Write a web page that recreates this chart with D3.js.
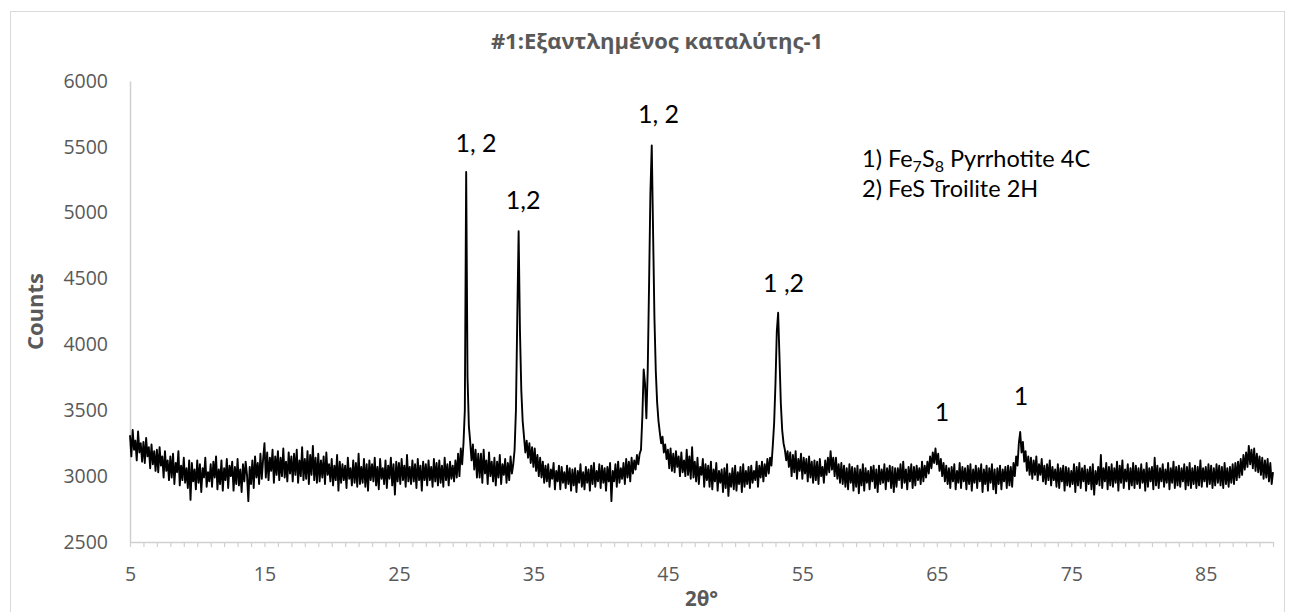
<!DOCTYPE html>
<html>
<head>
<meta charset="utf-8">
<script src="https://cdn.jsdelivr.net/npm/d3@7"></script>
<style>
  body { margin: 0; background: #ffffff; }
  svg { display: block; }
</style>
</head>
<body>
<svg id="chart" width="1295" height="612"></svg>
<script>
// ---- chart text ----
const chartTitle = "#1:Εξαντλημένος καταλύτης-1";
const xAxisTitle = "2θ°";
const yAxisTitle = "Counts";

// ---- diffractogram: counts sampled every 0.1° of 2θ, starting at 5° ----
const angleStart = 5;
const angleStep = 0.1;
const counts = [
  /* 5 */ 3310,3150,3350,3200,3270,3120,3340,3180,3250,3110,
  /* 6 */ 3260,3100,3290,3150,3220,3060,3240,3090,3190,3040,
  /* 7 */ 3200,3030,3220,3080,3150,2990,3190,3040,3120,2970,
  /* 8 */ 3150,2990,3170,2940,3100,3030,3190,2930,3080,2970,
  /* 9 */ 3140,2950,3060,2910,3120,2820,3100,2960,3050,2900,
  /*10 */ 3120,2950,3090,2880,3060,2990,3140,2920,3030,2960,
  /*11 */ 3090,2920,3110,2990,3150,2900,3050,2940,3120,2890,
  /*12 */ 3060,2970,3130,2910,3080,3000,3110,2890,3070,2940,
  /*13 */ 3130,2930,3050,2880,3090,2960,3110,3010,2810,3070,
  /*14 */ 2940,3120,2910,3150,2990,3100,2940,3170,2980,3130,
  /*15 */ 3250,2990,3180,2970,3140,3040,3200,2950,3150,3010,
  /*16 */ 3190,2970,3140,3000,3210,2990,3110,2960,3180,3020,
  /*17 */ 3150,2960,3170,3010,3200,2950,3120,3000,3220,2970,
  /*18 */ 3130,2980,3190,2940,3160,3010,3230,2970,3140,2950,
  /*19 */ 3170,2960,3120,2990,3150,2940,3180,3010,3090,2960,
  /*20 */ 3130,2930,3080,2970,3160,2890,3110,2950,3090,2970,
  /*21 */ 3080,2910,3140,2980,3060,2930,3120,2950,3100,2920,
  /*22 */ 3170,2940,3070,2950,3130,2920,3090,2890,3120,2970,
  /*23 */ 3090,2960,3140,2930,3070,2900,3130,2980,3060,2940,
  /*24 */ 3120,2910,3080,2980,3140,2930,3090,2860,3110,2960,
  /*25 */ 3100,2940,3130,2970,3080,2920,3160,2960,3070,2940,
  /*26 */ 3120,2960,3090,2910,3130,2970,3080,2890,3110,2970,
  /*27 */ 3090,2930,3120,2970,3070,2920,3130,2960,3100,2930,
  /*28 */ 3120,2950,3080,2920,3140,2970,3090,2930,3110,2980,
  /*29 */ 3080,2960,3120,2990,3170,3000,3210,3090,3250,3500,
  /*30 */ 5310,3750,3380,3260,3120,3240,3050,3200,2990,3170,
  /*31 */ 2990,3170,2950,3200,3020,3120,2940,3180,3000,3110,
  /*32 */ 2960,3140,2930,3110,2990,3160,2940,3090,3010,3130,
  /*33 */ 2950,3100,2970,3150,3020,3090,3200,3500,4200,4860,
  /*34 */ 4100,3650,3420,3300,3180,3270,3140,3250,3100,3220,
  /*35 */ 3070,3210,3040,3160,3000,3140,2990,3110,2950,3080,
  /*36 */ 2960,3090,2920,3050,2980,3100,2900,3040,2960,3080,
  /*37 */ 2900,3070,2950,3030,2910,3080,2940,3060,2890,3050,
  /*38 */ 2930,3060,2880,3040,2950,3090,2920,3030,2900,3070,
  /*39 */ 2950,3050,2890,3080,2940,3100,2920,3040,2960,3090,
  /*40 */ 2910,3080,2950,3060,2890,3070,2960,3100,2810,3040,
  /*41 */ 2960,3090,2920,3110,2950,3060,2980,3100,2940,3130,
  /*42 */ 2990,3110,2960,3140,3020,3120,3050,3160,3090,3170,
  /*43 */ 3200,3450,3810,3700,3440,3800,4450,5150,5510,4850,
  /*44 */ 4200,3800,3560,3420,3330,3250,3300,3180,3240,3130,
  /*45 */ 3200,3060,3210,3040,3170,3030,3190,3070,3150,3000,
  /*46 */ 3180,3030,3120,3000,3200,3010,3150,2980,3220,2990,
  /*47 */ 3110,2960,3140,2940,3070,3010,3130,2920,3090,2970,
  /*48 */ 3080,2920,3110,2900,3050,2960,3100,2890,3040,2950,
  /*49 */ 3050,2880,3060,2910,3090,2850,3020,2920,3060,2900,
  /*50 */ 3080,2890,3030,2940,3070,2880,3090,2920,3040,2940,
  /*51 */ 3070,2910,3080,2950,3040,2970,3110,2920,3080,2990,
  /*52 */ 3110,2960,3090,3000,3130,3020,3140,3080,3230,3400,
  /*53 */ 3700,4100,4240,3900,3550,3350,3250,3200,3120,3190,
  /*54 */ 3070,3180,3000,3160,3030,3190,2980,3130,3040,3170,
  /*55 */ 2980,3140,3020,3130,2960,3150,2990,3110,2950,3120,
  /*56 */ 2970,3110,2940,3130,3000,3070,2950,3120,3010,3140,
  /*57 */ 3030,3190,3050,3140,3000,3140,2980,3090,2950,3100,
  /*58 */ 2940,3080,2920,3060,2900,3090,2950,3070,2890,3060,
  /*59 */ 2920,3080,2870,3050,2930,3090,2890,3060,2950,3040,
  /*60 */ 2900,3070,2960,3080,2910,3050,2880,3080,2940,3050,
  /*61 */ 2950,3090,2900,3060,2960,3080,2910,3070,2880,3060,
  /*62 */ 2920,3060,2970,3090,2910,3110,2950,3050,2900,3070,
  /*63 */ 2960,3090,2910,3070,2930,3080,2970,3060,2940,3110,
  /*64 */ 2960,3080,2990,3110,3020,3150,3060,3180,3100,3210,
  /*65 */ 3090,3170,3040,3130,3000,3100,2960,3080,2940,3060,
  /*66 */ 2910,3070,2960,3090,2900,3040,2950,3100,2910,3070,
  /*67 */ 2960,3060,2900,3080,2940,3090,2890,3050,2950,3080,
  /*68 */ 2910,3060,2960,3090,2880,3050,2940,3080,2890,3060,
  /*69 */ 2950,3090,2900,3050,2870,3060,2940,3080,2900,3050,
  /*70 */ 2960,3070,2910,3080,2930,3070,2920,3100,3000,3150,
  /*71 */ 3080,3250,3335,3180,3260,3110,3190,3040,3150,3010,
  /*72 */ 3140,2980,3120,3010,3150,2970,3090,3010,3130,2960,
  /*73 */ 3080,2940,3090,2970,3120,2930,3070,2970,3050,2920,
  /*74 */ 3090,2910,3060,2960,3080,2890,3070,2930,3060,2920,
  /*75 */ 3040,2940,3090,2880,3070,2930,3100,2910,3060,2960,
  /*76 */ 3080,2890,3050,2940,3070,2900,3090,2860,3040,2940,
  /*77 */ 3070,2930,3160,2910,3060,2960,3100,2900,3070,2930,
  /*78 */ 3090,2920,3060,2950,3110,2890,3080,2950,3120,2910,
  /*79 */ 3050,2960,3090,2900,3060,2930,3100,2910,3080,2940,
  /*80 */ 3060,2910,3090,2950,3050,2890,3100,2920,3060,2960,
  /*81 */ 3070,2900,3140,2930,3080,2910,3060,2960,3090,2920,
  /*82 */ 3050,2950,3100,2900,3060,2950,3110,2910,3070,2930,
  /*83 */ 3080,2920,3060,2960,3090,2900,3070,2930,3100,2910,
  /*84 */ 3060,2940,3080,2910,3070,2930,3120,2920,3060,2960,
  /*85 */ 3070,2920,3090,2940,3080,2910,3060,2930,3090,2950,
  /*86 */ 3080,2930,3070,2910,3100,2940,3060,2920,3070,2950,
  /*87 */ 3090,2940,3100,2970,3110,2990,3130,3010,3160,3050,
  /*88 */ 3180,3070,3230,3090,3200,3060,3210,3040,3170,3030,
  /*89 */ 3150,3010,3140,2980,3120,2990,3130,2960,3100,2940,
  /*90 */ 3030
];

// ---- axes ----
const xDomain = [5, 90];
const yDomain = [2500, 6000];
const xTickValues = [5, 15, 25, 35, 45, 55, 65, 75, 85];
const yTickValues = [2500, 3000, 3500, 4000, 4500, 5000, 5500, 6000];

// ---- peak labels (phase numbers) anchored in data units ----
const peakLabelText  = ["1, 2", "1,2", "1, 2", "1 ,2", "1", "1"];
const peakLabelAngle = [30.73, 34.23, 44.30, 53.60, 65.39, 71.26];
const peakLabelCount = [5461, 5028, 5681, 4398, 3421, 3540];

// ---- phase key ----
const phaseNumber  = ["1)", "2)"];
const phaseFormula = [["Fe", "7", "S", "8"], ["FeS"]];
const phaseName    = ["Pyrrhotite 4C", "Troilite 2H"];

// ================= drawing =================
const plot = { left: 130, right: 1273, top: 81, bottom: 542 };
const grey = "#595959";
const axisGrey = "#d0d0d0";
const tickFont = "'Open Sans', 'Noto Sans', sans-serif";
const noteFont = "Lato, 'Open Sans', sans-serif";

const svg = d3.select("#chart");

// chart area frame
svg.append("rect")
  .attr("x", 10.5).attr("y", 11.5)
  .attr("width", 1274).attr("height", 640)
  .attr("fill", "#ffffff")
  .attr("stroke", "#d9d9d9").attr("stroke-width", 1);

const x = d3.scaleLinear().domain(xDomain).range([plot.left, plot.right]);
const y = d3.scaleLinear().domain(yDomain).range([plot.bottom, plot.top]);

const points = counts.map((c, i) => [angleStart + i * angleStep, c]);

// title
svg.append("text")
  .attr("x", 657)
  .attr("y", 49)
  .attr("text-anchor", "middle")
  .attr("font-family", tickFont)
  .attr("font-weight", 700)
  .attr("font-size", 22)
  .attr("fill", grey)
  .text(chartTitle);

// y axis: line only, labels on the left
const yAxis = svg.append("g")
  .attr("transform", `translate(${plot.left},0)`)
  .call(d3.axisLeft(y).tickValues(yTickValues).tickSize(0).tickPadding(22).tickFormat(d3.format("d")));
yAxis.select(".domain").attr("stroke", axisGrey).attr("stroke-width", 1.5);
yAxis.selectAll("text")
  .attr("font-family", tickFont).attr("font-size", 19.5).attr("fill", grey);

// x axis: minor marks at every degree, labels every 10°
const xAxis = svg.append("g")
  .attr("transform", `translate(0,${plot.bottom})`)
  .call(d3.axisBottom(x).tickValues(d3.range(xDomain[0], xDomain[1] + 1, 1)).tickSize(5).tickSizeOuter(0)
    .tickFormat(d => xTickValues.includes(d) ? d : ""));
xAxis.select(".domain").attr("stroke", axisGrey).attr("stroke-width", 1.5);
xAxis.selectAll(".tick line").attr("stroke", axisGrey).attr("stroke-width", 1.2);
xAxis.selectAll("text")
  .attr("font-family", tickFont).attr("font-size", 19.5).attr("fill", grey)
  .attr("dy", 0).attr("y", 39);

// axis titles
svg.append("text")
  .attr("x", (plot.left + plot.right) / 2)
  .attr("y", 606)
  .attr("text-anchor", "middle")
  .attr("font-family", tickFont).attr("font-weight", 700).attr("font-size", 20.5)
  .attr("fill", grey)
  .text(xAxisTitle);

svg.append("text")
  .attr("transform", `translate(43,${(plot.top + plot.bottom) / 2}) rotate(-90)`)
  .attr("text-anchor", "middle")
  .attr("font-family", tickFont).attr("font-weight", 700).attr("font-size", 22)
  .attr("fill", grey)
  .text(yAxisTitle);

// diffractogram trace
const line = d3.line().x(d => x(d[0])).y(d => y(d[1]));
svg.append("path")
  .datum(points)
  .attr("d", line)
  .attr("fill", "none")
  .attr("stroke", "#000000")
  .attr("stroke-width", 1.9)
  .attr("stroke-linejoin", "round");

// phase labels above the reflections
svg.append("g").selectAll("text")
  .data(peakLabelText)
  .join("text")
  .attr("x", (d, i) => x(peakLabelAngle[i]))
  .attr("y", (d, i) => y(peakLabelCount[i]))
  .attr("text-anchor", "middle")
  .attr("font-family", noteFont).attr("font-size", 25)
  .attr("fill", "#000000")
  .text(d => d);

// phase key
const key = svg.append("g").attr("transform", "translate(862,167)");
phaseNumber.forEach((num, i) => {
  const t = key.append("text")
    .attr("x", 0).attr("y", i * 30)
    .attr("font-family", noteFont).attr("font-size", 23.5)
    .attr("fill", "#000000");
  t.append("tspan").text(num + " ");
  phaseFormula[i].forEach((part, j) => {
    const isSub = /^\d+$/.test(part);
    t.append("tspan")
      .attr("font-size", isSub ? 16 : 23.5)
      .attr("dy", isSub ? 5 : (j > 0 ? -5 : 0))
      .text(part);
  });
  const last = phaseFormula[i][phaseFormula[i].length - 1];
  t.append("tspan")
    .attr("dy", /^\d+$/.test(last) ? -5 : 0)
    .text(" " + phaseName[i]);
});
</script>
</body>
</html>
